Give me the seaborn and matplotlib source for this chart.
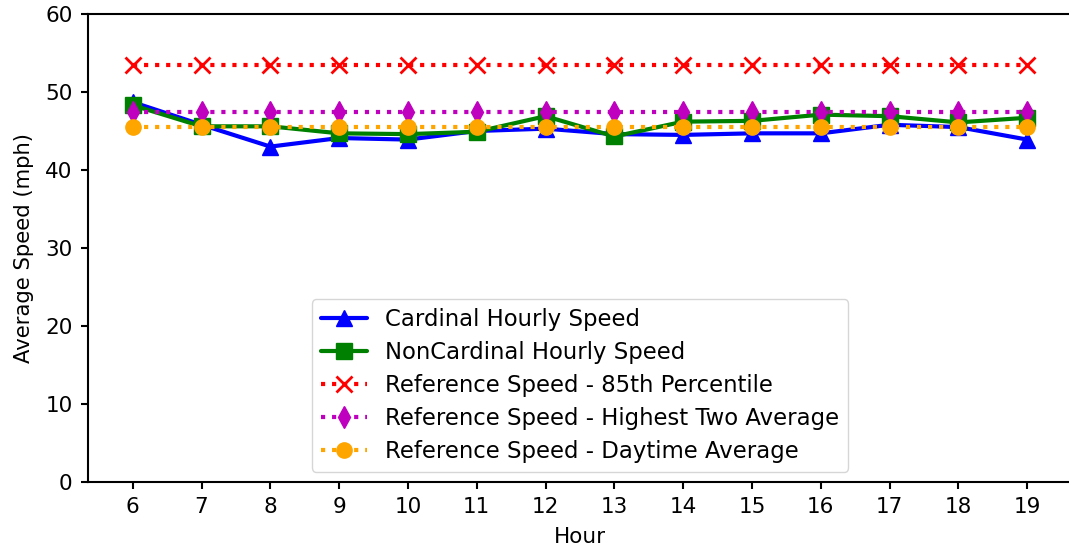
import matplotlib
matplotlib.use("Agg")
import matplotlib.pyplot as plt
import seaborn as sns
import pandas as pd

hours = [6, 7, 8, 9, 10, 11, 12, 13, 14, 15, 16, 17, 18, 19]
cardinal = [48.7, 45.8, 43.0, 44.1, 43.9, 45.0, 45.3, 44.6, 44.5, 44.7, 44.7, 45.8, 45.5, 43.9]
noncardinal = [48.3, 45.6, 45.6, 44.7, 44.6, 44.9, 46.9, 44.3, 46.2, 46.3, 47.1, 46.9, 46.1, 46.7]
ref85 = [53.4] * len(hours)
ref_high2 = [47.5] * len(hours)
ref_day = [45.5] * len(hours)

labels = ["Cardinal Hourly Speed", "NonCardinal Hourly Speed",
          "Reference Speed - 85th Percentile",
          "Reference Speed - Highest Two Average",
          "Reference Speed - Daytime Average"]
series = [cardinal, noncardinal, ref85, ref_high2, ref_day]
colors = ["#0000ff", "#008000", "#ff0000", "#bf00bf", "#ffa500"]
markers = ["^", "s", "x", "d", "o"]
styles = ["-", "-", ":", ":", ":"]

sns.set_theme(style="ticks")
plt.rcParams["font.family"] = ["DejaVu Sans"]
plt.rcParams.update({"text.color": "black", "axes.labelcolor": "black",
                     "xtick.color": "black", "ytick.color": "black"})

W, H = 1069, 552
fig = plt.figure(figsize=(W / 100, H / 100), dpi=100)
ax = fig.add_axes([88 / W, (H - 482) / H, 984 / W, 468 / H])

for vals, lab, c, m, ls in zip(series, labels, colors, markers, styles):
    df = pd.DataFrame({"Hour": hours, "Speed": vals})
    sns.lineplot(data=df, x="Hour", y="Speed", ax=ax, color=c, marker=m,
                 linestyle=ls, linewidth=3, markersize=11, label=lab,
                 markeredgecolor=c, markeredgewidth=2 if m == "x" else 1)

ax.set_ylim(0, 60)
ax.set_yticks(range(0, 61, 10))
ax.set_xticks(hours)
ax.set_xlim(5.35, 19.65)
ax.set_xlabel("Hour", fontsize=15.5)
ax.set_ylabel("Average Speed (mph)", fontsize=15.2)
ax.tick_params(labelsize=15.5, length=5, width=1.5, pad=6)
ax.xaxis.set_label_coords(0.5, -0.097)
ax.yaxis.set_label_coords(-0.055, 0.5)
for s in ax.spines.values():
    s.set_linewidth(1.5)
    s.set_color("black")
leg = ax.legend(loc="lower center", fontsize=16.4, frameon=True,
                handlelength=2, labelspacing=0.43, borderaxespad=0.45)
leg.get_frame().set_edgecolor("#cccccc")

fig.savefig("out.png", dpi=100)
